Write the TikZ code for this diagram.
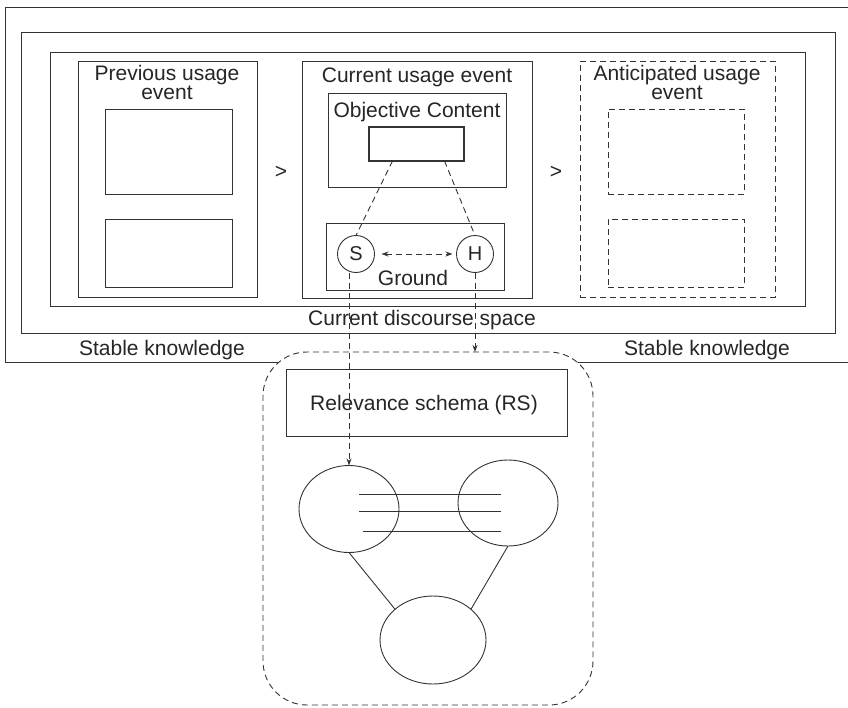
\documentclass[tikz,border=0pt]{standalone}
\usepackage{fontspec}
\setmainfont{Liberation Sans}
\usetikzlibrary{shapes.geometric,arrows.meta,calc}
\begin{document}
\begin{tikzpicture}[x=1pt,y=-1pt,
  every node/.style={inner sep=0pt,outer sep=0pt},
  box/.style={draw=black!80,line width=0.9pt,rectangle,anchor=north west},
  dbox/.style={box,dash pattern=on 6pt off 4pt},
  lbl/.style={font=\fontsize{21}{19}\selectfont,text=black!85,anchor=base,align=center},
  circ/.style={draw=black!80,line width=0.9pt,circle,minimum size=37pt,font=\fontsize{20}{20}\selectfont,text=black!85},
  ell/.style={draw=black!80,line width=0.9pt,ellipse},
  dline/.style={draw=black!80,line width=0.9pt,dash pattern=on 6pt off 4pt},
  tip/.style={-{Stealth[length=7pt,width=5pt]}},
  sline/.style={draw=black!80,line width=0.9pt}]
\clip (0,0) rectangle (848,707);
\fill[white] (0,0) rectangle (848,707);
% outer boxes
\node[box,minimum width=860pt,minimum height=355pt] (outer) at (5,7) {};
\node[box,minimum width=814pt,minimum height=301pt] (second) at (21,32) {};
\node[box,minimum width=755pt,minimum height=254pt] (cds) at (50,52) {};
% previous usage event
\node[box,minimum width=179pt,minimum height=236pt] (prev) at (78,61) {};
\node[box,minimum width=127pt,minimum height=85pt] (prev1) at (105,109) {};
\node[box,minimum width=127pt,minimum height=68pt] (prev2) at (105,219) {};
\node[lbl] (prevt) at (167,99) {Previous usage\\event};
% current usage event
\node[box,minimum width=230pt,minimum height=237pt] (cur) at (302,61) {};
\node[lbl] (curt) at (417,82) {Current usage event};
\node[box,minimum width=178pt,minimum height=94pt] (obj) at (328,93) {};
\node[lbl] (objt) at (417,117) {Objective Content};
\node[box,line width=1.8pt,minimum width=95pt,minimum height=34pt] (objin) at (369,127) {};
\node[box,minimum width=178pt,minimum height=67pt] (ground) at (326,223) {};
\node[lbl] (groundt) at (413,285) {Ground};
\node[circ] (S) at (356,254) {S};
\node[circ] (H) at (475,254) {H};
% anticipated usage event
\node[dbox,minimum width=195pt,minimum height=236pt] (ant) at (580,61) {};
\node[dbox,minimum width=136pt,minimum height=85pt] (ant1) at (608,109) {};
\node[dbox,minimum width=136pt,minimum height=68pt] (ant2) at (608,219) {};
\node[lbl] (antt) at (677,99) {Anticipated usage\\event};
% separators
\node[lbl,anchor=center] (gt1) at (281,172) {>};
\node[lbl,anchor=center] (gt2) at (556,172) {>};
% labels
\node[lbl] (cdst) at (422,325) {Current discourse space};
\node[lbl] (sk1) at (162,355) {Stable knowledge};
\node[lbl] (sk2) at (707,355) {Stable knowledge};
% relevance region
\node[box,dash pattern=on 6pt off 4pt,fill=white,rounded corners=44pt,minimum width=330pt,minimum height=353pt] (rel) at (263,352) {};
\node[box,minimum width=281pt,minimum height=67pt] (rs) at (286,369) {};
\node[lbl] (rst) at (424,410) {Relevance schema (RS)};
\node[ell,minimum width=100pt,minimum height=87pt] (L) at (349,509) {};
\node[ell,minimum width=100pt,minimum height=86pt] (R) at (508,503) {};
\node[ell,minimum width=106pt,minimum height=88pt] (B) at (433,640) {};
\coordinate (l1a) at (359,494); \coordinate (l1b) at (501,494);
\coordinate (l2a) at (359,511); \coordinate (l2b) at (501,511);
\coordinate (l3a) at (363,531); \coordinate (l3b) at (501,531);
\draw[sline] (l1a) -- (l1b);
\draw[sline] (l2a) -- (l2b);
\draw[sline] (l3a) -- (l3b);
\draw[sline] (L.south) -- (B.141);
\draw[sline] (R.south) -- (B.39);
% dashed connectors
\draw[dline] ([xshift=-24pt]objin.south) -- (S.north);
\draw[dline] ([xshift=28pt]objin.south) -- (H.north);
\draw[dline,{Stealth[length=7pt,width=5pt]}-{Stealth[length=7pt,width=5pt]},shorten <=7pt,shorten >=4pt] (S.east) -- (H.west);
\draw[dline,tip] (S.south -| L.north) -- (L.north);
\draw[dline,tip] (H.south) -- (H.south |- rel.north);
\end{tikzpicture}
\end{document}
